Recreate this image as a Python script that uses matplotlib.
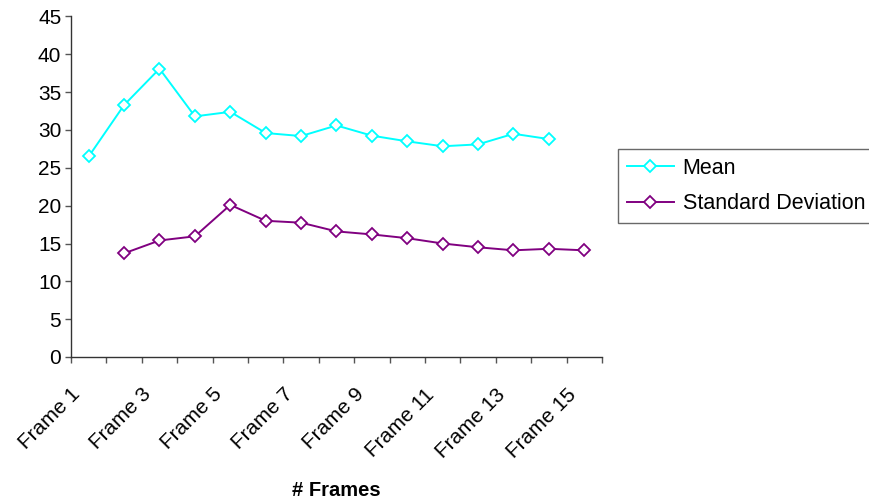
import numpy as np
import matplotlib.pyplot as plt
from matplotlib.ticker import FixedLocator
from matplotlib.transforms import ScaledTranslation

plt.rcParams['font.family'] = ['Liberation Sans', 'DejaVu Sans']

# Frame categories and per-frame statistics
frames = [f"Frame {i}" for i in range(1, 16)]
mean_values = [26.5, 33.3, 38.1, 31.8, 32.4, 29.6, 29.2, 30.6,
               29.25, 28.5, 27.85, 28.1, 29.5, 28.8]          # Frame 1 .. Frame 14
std_values = [13.7, 15.4, 15.95, 20.1, 18.0, 17.75, 16.6,
              16.2, 15.7, 15.0, 14.5, 14.1, 14.3, 14.1]        # Frame 2 .. Frame 15

x_mean = np.arange(1, len(mean_values) + 1)
x_std = np.arange(2, len(std_values) + 2)

fig = plt.figure(figsize=(8.7, 5), dpi=100)
ax = fig.add_axes([71 / 870, 1 - 357 / 500, (602 - 71) / 870, (357 - 16.5) / 500])

marker_style = dict(marker='D', markersize=6, markerfacecolor='white',
                    markeredgewidth=1.3, linewidth=1.4)
ax.plot(x_mean, mean_values, color='#00FFFF', label='Mean', **marker_style)
ax.plot(x_std, std_values, color='#800080', label='Standard Deviation', **marker_style)

ax.set_xlim(0.5, len(frames) + 0.5)
ax.set_ylim(0, 45)
ax.set_yticks(range(0, 46, 5))

# category labels on every other frame, tick marks between categories
ax.set_xticks(range(1, len(frames) + 1, 2))
ax.set_xticklabels(frames[::2], rotation=45, ha='right', rotation_mode='anchor')
ax.xaxis.set_minor_locator(FixedLocator(np.arange(0.5, len(frames) + 1, 1)))
ax.tick_params(axis='x', which='major', length=0, pad=20, labelsize=15)
ax.tick_params(axis='x', which='minor', length=4, width=1, color='#555555')
ax.tick_params(axis='y', length=4, width=1, color='#555555', labelsize=15, pad=3)

# nudge the slanted labels left so they finish just before each category centre
shift = ScaledTranslation(-0.18, 0, fig.dpi_scale_trans)
for label in ax.xaxis.get_majorticklabels():
    label.set_transform(label.get_transform() + shift)

for side in ['top', 'right']:
    ax.spines[side].set_visible(False)
for side in ['left', 'bottom']:
    ax.spines[side].set_color('#333333')
    ax.spines[side].set_linewidth(1)

ax.set_xlabel('# Frames', fontsize=14.5, fontweight='bold', labelpad=14)

leg = ax.legend(loc='upper left', bbox_to_anchor=(618 / 870, 1 - 149 / 500),
                bbox_transform=fig.transFigure, frameon=True, fancybox=False,
                fontsize=15.5, handlelength=2.2, borderpad=0.4, labelspacing=0.67,
                handletextpad=0.4, borderaxespad=0)
leg.get_frame().set_edgecolor('#444444')
leg.get_frame().set_linewidth(1)

plt.savefig('out.png', dpi=100)
